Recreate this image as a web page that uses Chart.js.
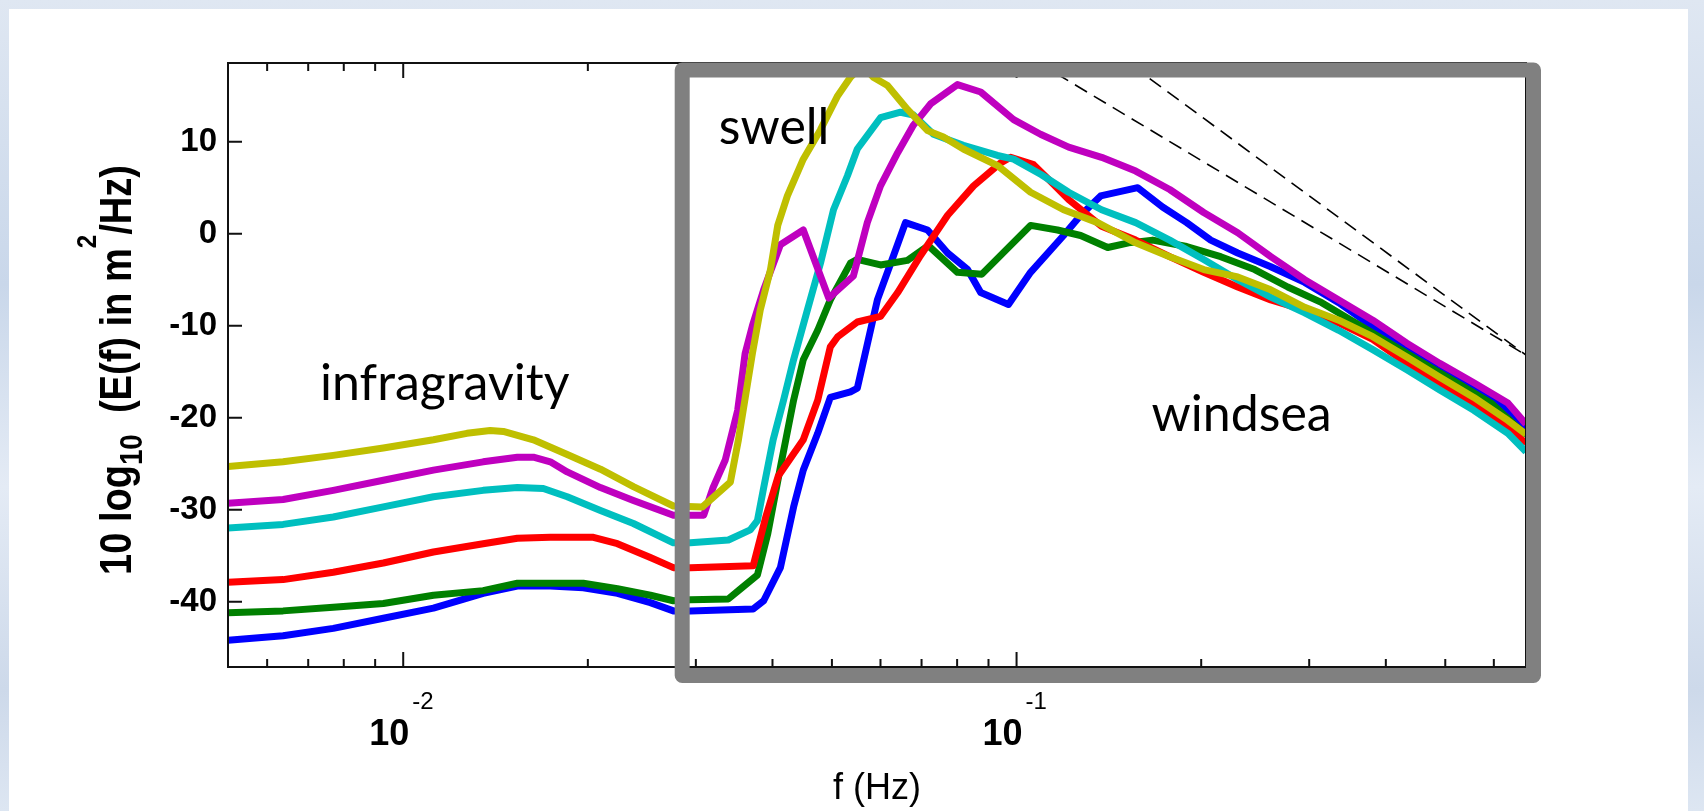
<!DOCTYPE html>
<html>
<head>
<meta charset="utf-8">
<script src="https://cdn.jsdelivr.net/npm/chart.js@4.4.0/dist/chart.umd.min.js"></script>
<style>
html, body { margin: 0; padding: 0; width: 1704px; height: 811px; overflow: hidden; }
body { background: linear-gradient(180deg, #dfe7f2 0%, #c9d7ea 35%, #e4ebf5 60%, #cdd9ea 85%, #dde6f2 100%); }
canvas { position: absolute; left: 0; top: 0; }
</style>
</head>
<body>
<canvas id="spec" width="1704" height="811"></canvas>
<script>
// axis ticks
const xTicks = [0.006, 0.007, 0.008, 0.009, 0.01, 0.02, 0.03, 0.04, 0.05, 0.06, 0.07, 0.08, 0.09, 0.1, 0.2, 0.3, 0.4, 0.5, 0.6];
const xMajor = [0.01, 0.1];
const xExpo = ['-2', '-1'];
const yTicks = [-40, -30, -20, -10, 0, 10];

// spectra, [f (Hz), 10 log10 E(f)]
const blue = [[0.00518,-44.2],[0.00637,-43.7],[0.00769,-42.9],[0.00928,-41.8],[0.0112,-40.7],[0.0135,-39.1],[0.01535,-38.3],[0.01737,-38.3],[0.01966,-38.5],[0.02235,-39.1],[0.02529,-40.1],[0.02757,-41.0],[0.02939,-41.0],[0.0372,-40.8],[0.0387,-39.9],[0.0412,-36.3],[0.0433,-29.7],[0.0449,-25.7],[0.0474,-21.7],[0.0497,-17.8],[0.0536,-17.2],[0.0550,-16.8],[0.0593,-7.2],[0.0630,-2.4],[0.0659,1.2],[0.0716,0.4],[0.0772,-2.1],[0.0832,-3.9],[0.0874,-6.4],[0.0970,-7.7],[0.1054,-4.2],[0.1193,-0.2],[0.1272,2.0],[0.1371,4.1],[0.1576,5.0],[0.1730,2.9],[0.1894,1.2],[0.2073,-0.7],[0.2294,-2.1],[0.2597,-3.6],[0.2950,-5.3],[0.3352,-7.5],[0.3809,-10.1],[0.4328,-12.3],[0.4898,-14.5],[0.5566,-16.7],[0.6324,-19.2],[0.677,-21.2]];
const green = [[0.00518,-41.2],[0.00637,-41.0],[0.00769,-40.6],[0.00928,-40.2],[0.0112,-39.3],[0.0135,-38.8],[0.01535,-38.0],[0.01737,-38.0],[0.01966,-38.0],[0.02235,-38.6],[0.02529,-39.3],[0.02757,-39.9],[0.02939,-39.8],[0.0339,-39.7],[0.0355,-38.6],[0.0378,-37.1],[0.0393,-32.6],[0.0412,-25.4],[0.0433,-18.1],[0.0449,-13.7],[0.0474,-10.5],[0.0497,-7.2],[0.0536,-3.2],[0.0550,-2.8],[0.0600,-3.4],[0.0664,-2.9],[0.0718,-1.3],[0.0801,-4.2],[0.0878,-4.4],[0.1054,0.9],[0.1166,0.4],[0.1272,-0.2],[0.1408,-1.5],[0.1523,-1.0],[0.1667,-0.7],[0.1894,-1.4],[0.2152,-2.5],[0.2445,-3.9],[0.2768,-5.8],[0.3145,-7.5],[0.3573,-9.7],[0.4060,-11.9],[0.4613,-14.1],[0.5222,-16.2],[0.5933,-18.4],[0.677,-21.9]];
const red = [[0.00518,-37.9],[0.00637,-37.6],[0.00769,-36.8],[0.00928,-35.8],[0.0112,-34.6],[0.0135,-33.7],[0.01535,-33.1],[0.01737,-33.0],[0.02042,-33.0],[0.02235,-33.7],[0.02529,-35.2],[0.02757,-36.3],[0.02939,-36.3],[0.0372,-36.1],[0.0390,-30.8],[0.0409,-26.3],[0.0449,-22.4],[0.0474,-18.1],[0.0497,-12.3],[0.0511,-11.2],[0.0550,-9.6],[0.0600,-9.0],[0.0640,-6.4],[0.0697,-2.4],[0.0772,2.0],[0.0851,5.2],[0.0942,7.7],[0.0978,8.3],[0.1066,7.5],[0.1140,5.6],[0.1216,3.7],[0.1376,0.8],[0.1564,-0.7],[0.1777,-2.5],[0.2019,-4.2],[0.2294,-5.8],[0.2597,-7.2],[0.2950,-8.3],[0.3352,-9.7],[0.3809,-11.5],[0.4328,-14.1],[0.4898,-16.2],[0.5566,-18.4],[0.6324,-21.0],[0.677,-22.8]];
const cyan = [[0.00518,-32.0],[0.00637,-31.6],[0.00769,-30.8],[0.00928,-29.7],[0.0112,-28.6],[0.0135,-27.9],[0.01535,-27.6],[0.01692,-27.7],[0.01851,-28.6],[0.02097,-30.1],[0.02373,-31.5],[0.02757,-33.6],[0.02939,-33.6],[0.0339,-33.3],[0.0368,-32.2],[0.0378,-31.2],[0.0387,-27.6],[0.0401,-22.4],[0.0417,-18.1],[0.0433,-13.7],[0.0456,-8.3],[0.0479,-3.2],[0.0503,2.6],[0.0530,6.3],[0.0550,9.2],[0.0600,12.6],[0.0647,13.2],[0.0679,12.9],[0.0732,10.8],[0.0819,9.6],[0.0931,8.5],[0.0989,8.1],[0.1098,6.4],[0.1216,4.5],[0.1376,2.6],[0.1564,1.2],[0.1777,-0.7],[0.2019,-2.8],[0.2294,-5.0],[0.2597,-6.9],[0.2950,-8.6],[0.3352,-10.5],[0.3809,-12.6],[0.4328,-14.8],[0.4898,-17.0],[0.5566,-19.2],[0.6324,-21.7],[0.677,-23.7]];
const magenta = [[0.00518,-29.3],[0.00637,-28.9],[0.00769,-27.9],[0.00928,-26.8],[0.0112,-25.7],[0.0135,-24.8],[0.01535,-24.3],[0.0163,-24.3],[0.01737,-24.8],[0.01851,-25.9],[0.02097,-27.6],[0.02373,-29.0],[0.02757,-30.6],[0.0309,-30.6],[0.0320,-27.6],[0.0335,-24.6],[0.0351,-19.2],[0.0361,-13.0],[0.0371,-10.0],[0.0387,-6.1],[0.0412,-1.2],[0.0449,0.4],[0.0494,-7.0],[0.0542,-4.6],[0.0571,1.2],[0.0600,5.2],[0.0640,8.8],[0.0679,11.8],[0.0724,14.1],[0.0801,16.2],[0.0874,15.4],[0.0989,12.4],[0.1094,10.8],[0.1216,9.4],[0.1376,8.3],[0.1564,6.8],[0.1777,4.8],[0.2019,2.3],[0.2294,0.1],[0.2597,-2.5],[0.2950,-5.0],[0.3352,-7.2],[0.3809,-9.4],[0.4328,-11.9],[0.4898,-14.1],[0.5566,-16.2],[0.6324,-18.4],[0.677,-20.7]];
const yellow = [[0.00518,-25.3],[0.00637,-24.8],[0.00769,-24.1],[0.00928,-23.3],[0.0112,-22.4],[0.0127,-21.7],[0.01386,-21.4],[0.01456,-21.5],[0.0163,-22.4],[0.01851,-24.0],[0.02097,-25.6],[0.02373,-27.5],[0.02757,-29.6],[0.03075,-29.7],[0.03415,-27.0],[0.0352,-22.4],[0.0371,-13.0],[0.0382,-8.3],[0.0397,-3.9],[0.0408,0.9],[0.0423,4.1],[0.0449,8.1],[0.0479,11.3],[0.0511,15.0],[0.0536,17.0],[0.0561,18.3],[0.0584,17.0],[0.0616,16.1],[0.0664,13.5],[0.0716,11.2],[0.0760,10.5],[0.0819,9.2],[0.0931,7.4],[0.1054,4.5],[0.1193,2.6],[0.1356,1.2],[0.1564,-1.0],[0.1777,-2.5],[0.2019,-3.9],[0.2294,-4.7],[0.2597,-6.1],[0.2950,-8.0],[0.3352,-9.4],[0.3809,-11.2],[0.4328,-13.4],[0.4898,-15.6],[0.5566,-17.8],[0.6324,-20.3],[0.677,-21.8]];
// f^-4 and f^-5 reference slopes
const slope4 = [[0.0938,21.1],[0.677,-13.2]];
const slope5 = [[0.135,21.1],[0.677,-13.2]];

const FONT = "'Liberation Sans', Arial, Helvetica, sans-serif";

function pts(arr) { return arr.map(p => ({x: p[0], y: p[1]})); }

function spec(data, color, ord) {
  return { data: pts(data), borderColor: color, borderWidth: 7, pointRadius: 0,
    tension: 0, fill: false, borderJoinStyle: 'round', clip: 0, order: ord };
}

const overlay = {
  id: 'overlay',
  beforeDraw(chart) {
    const c = chart.ctx;
    c.save();
    c.fillStyle = '#ffffff';
    c.fillRect(9, 9, 1679, 802);
    c.restore();
  },
  afterDraw(chart) {
    const c = chart.ctx, a = chart.chartArea;
    const xs = chart.scales.x, ys = chart.scales.y;
    c.save();
    // ticks pointing in, like matlab
    c.strokeStyle = '#111';
    c.lineWidth = 2;
    c.beginPath();
    xs.ticks.forEach(t => {
      const px = xs.getPixelForValue(t.value);
      const len = xMajor.includes(t.value) ? 15 : 8;
      c.moveTo(px, a.bottom); c.lineTo(px, a.bottom - len);
      c.moveTo(px, a.top); c.lineTo(px, a.top + len);
    });
    ys.ticks.forEach(t => {
      const py = ys.getPixelForValue(t.value);
      c.moveTo(a.left, py); c.lineTo(a.left + 14, py);
    });
    c.stroke();
    c.strokeRect(a.left, a.top, a.right - a.left, a.bottom - a.top);

    // exponents of the decade labels
    c.fillStyle = '#000';
    c.font = '24px ' + FONT;
    c.textAlign = 'left';
    c.textBaseline = 'middle';
    xMajor.forEach((v, i) => {
      c.fillText(xExpo[i], xs.getPixelForValue(v) + 9, a.bottom + 35);
    });

    // y title with sub and superscript, squeezed to its length in the picture
    c.save();
    c.translate(131, 370);
    c.rotate(-Math.PI / 2);
    c.textBaseline = 'alphabetic';
    const parts = [['10 log', 44, 0], ['10', 32, 11], ['  (E(f) in m', 44, 0], ['2', 28, -35], ['/Hz)', 44, 0]];
    let total = 0;
    parts.forEach(p => { c.font = 'bold ' + p[1] + 'px ' + FONT; total += c.measureText(p[0]).width; });
    c.scale(410 / total, 1);
    let tx = -total / 2;
    parts.forEach(p => {
      c.font = 'bold ' + p[1] + 'px ' + FONT;
      c.fillText(p[0], tx, p[2]);
      tx += c.measureText(p[0]).width;
    });
    c.restore();

    // region names
    c.font = '50px Lato, sans-serif';
    c.textAlign = 'left';
    c.textBaseline = 'alphabetic';
    [['infragravity', 0.00732, -18.1], ['swell', 0.0327, 9.7], ['windsea', 0.166, -21.5]].forEach(l => {
      c.fillText(l[0], xs.getPixelForValue(l[1]), ys.getPixelForValue(l[2]));
    });

    // grey frame round the swell/windsea part
    const bl = xs.getPixelForValue(0.0285);
    c.strokeStyle = '#808080';
    c.lineWidth = 15;
    c.lineJoin = 'round';
    c.strokeRect(bl, a.top + 7, a.right + 7.5 - bl, a.bottom + 8.5 - a.top - 7);
    c.restore();
  }
};

const ctx = document.getElementById('spec').getContext('2d');
const myChart = new Chart(ctx, {
  type: 'line',
  data: {
    datasets: [
      spec(blue, '#0000ff', 6),
      spec(green, '#008000', 5),
      spec(red, '#ff0000', 4),
      spec(cyan, '#00bfbf', 3),
      spec(magenta, '#bf00bf', 2),
      spec(yellow, '#bfbf00', 1),
      { data: pts(slope4), borderColor: '#000', borderWidth: 1.6, borderDash: [14, 8], pointRadius: 0, clip: 0, order: 0 },
      { data: pts(slope5), borderColor: '#000', borderWidth: 1.6, borderDash: [14, 8], pointRadius: 0, clip: 0, order: 0 }
    ]
  },
  options: {
    responsive: false,
    animation: false,
    devicePixelRatio: 1,
    layout: { padding: { left: 10, right: 178, top: 63, bottom: 0 } },
    plugins: { legend: { display: false }, tooltip: { enabled: false } },
    scales: {
      x: {
        type: 'logarithmic',
        min: 0.00518,
        max: 0.677,
        afterBuildTicks: s => { s.ticks = xTicks.map(v => ({ value: v, major: xMajor.includes(v) })); },
        afterFit: s => { s.height = 144; },
        grid: { display: false, drawTicks: false },
        border: { display: false },
        ticks: {
          autoSkip: false, maxRotation: 0, minRotation: 0,
          padding: 46, labelOffset: -14,
          color: '#000', font: { size: 36, family: FONT, weight: 'bold' },
          callback: v => xMajor.includes(v) ? '10' : ''
        },
        title: { display: true, text: 'f (Hz)', color: '#000', font: { size: 36, family: FONT }, padding: { top: 0, bottom: 0 } }
      },
      y: {
        min: -47.1,
        max: 18.55,
        afterBuildTicks: s => { s.ticks = yTicks.map(v => ({ value: v })); },
        afterFit: s => { s.width = 218; },
        grid: { display: false, drawTicks: false },
        border: { display: false },
        ticks: { padding: 11, color: '#000', font: { size: 33, family: FONT, weight: 'bold' } }
      }
    }
  },
  plugins: [overlay]
});
</script>
</body>
</html>
